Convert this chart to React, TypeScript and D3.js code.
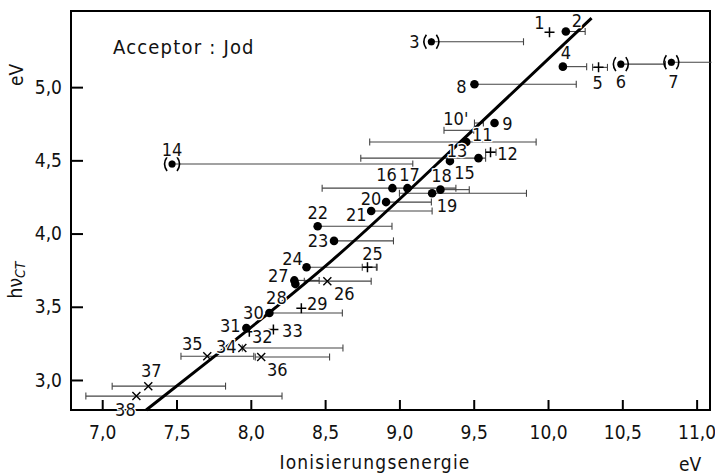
import React, { useEffect, useRef } from "react";
import * as d3 from "d3";

// Charge-transfer band energy vs. ionisation energy of the donor (acceptor: iodine)
const pointIds = ["1", "2", "3", "4", "5", "6", "7", "8", "9", "10'", "11", "12", "13", "14", "15", "16", "17", "18", "19", "20",
  "21", "22", "23", "24", "25", "26", "27", "28", "29", "30", "31", "32", "33", "34", "35", "36", "37", "38"];
const ionEnergy = [10.01, 10.12, 9.215, 10.10, 10.34, 10.49, 10.83, 9.505, 9.64, 9.40, 9.45, 9.613, 9.34, 7.47, 9.532, 8.953, 9.054, 9.276, 9.22, 8.91,
  8.81, 8.45, 8.56, 8.375, 8.785, 8.515, 8.293, 8.30, 8.34, 8.125, 7.97, 7.99, 8.152, 7.943, 7.707, 8.07, 7.31, 7.23];
const ctEnergy = [5.375, 5.38, 5.31, 5.14, 5.135, 5.157, 5.17, 5.02, 4.755, 4.705, 4.625, 4.556, 4.495, 4.475, 4.515, 4.31, 4.31, 4.30, 4.275, 4.215,
  4.154, 4.05, 3.95, 3.77, 3.77, 3.675, 3.68, 3.655, 3.49, 3.457, 3.355, 3.33, 3.345, 3.218, 3.162, 3.157, 2.958, 2.89];
const markerKind = ["plus", "dot", "paren", "dot", "plus", "paren", "paren", "dot", "dot", "none", "dot", "plus", "dot", "paren", "dot", "dot", "dot", "dot", "dot", "dot",
  "dot", "dot", "dot", "dot", "plus", "cross", "dot", "dot", "plus", "dot", "dot", "plus", "plus", "cross", "cross", "cross", "cross", "cross"];
// spread of the ionisation energies (null = no bar)
const errLow = [null, 10.12, 9.215, 10.10, 10.30, 10.49, 10.83, 9.505, 9.505, 9.30, 8.80, 9.58, null, 7.47, 8.74, 8.48, null, 9.276, 9.00, 8.91,
  8.81, 8.45, 8.56, 8.375, 8.75, 8.36, 8.293, null, null, 8.125, null, null, null, 7.943, 7.53, 8.03, 7.067, 6.89];
const errHigh = [null, 10.25, 9.835, 10.26, 10.40, 10.79, 11.10, 10.19, 9.565, 9.50, 9.92, 9.65, null, 9.09, 9.58, 9.38, null, 9.47, 9.855, 9.215,
  9.22, 8.95, 8.96, 8.845, 8.85, 8.81, 8.46, null, null, 8.616, null, null, null, 8.62, 8.02, 8.53, 7.83, 8.21];

// fitted curve
const fitIon = [7.296, 7.768, 8.549, 9.316, 10.293];
const fitCt = [2.795, 3.171, 3.819, 4.536, 5.471];

const xTickValues = [7.0, 7.5, 8.0, 8.5, 9.0, 9.5, 10.0, 10.5, 11.0];
const yTickValues = [3.0, 3.5, 4.0, 4.5, 5.0];

// where each number sits next to its marker (px)
const labelOffset: Record<string, [number, number]> = {
  "1": [-10, -10], "2": [11, -11], "3": [-17, 0], "4": [3, -14], "5": [-1, 15], "6": [0, 17], "7": [2, 19], "8": [-13, 2],
  "9": [13, 0], "10'": [-3, -12], "11": [16, -8], "12": [17, 1], "13": [7, -11], "14": [0, -15], "15": [-14, 14],
  "16": [-6, -14], "17": [2, -14], "18": [1, -14], "19": [15, 12], "20": [-15, -4], "21": [-15, 3], "22": [0, -14],
  "23": [-16, 0], "24": [-14, -9], "25": [5, -14], "26": [17, 12], "27": [-16, -5], "28": [-19, 13], "29": [16, -5],
  "30": [-16, -1], "31": [-16, -3], "32": [13, 5], "33": [19, 1], "34": [-16, -2], "35": [-15, -13], "36": [16, 13],
  "37": [3, -16], "38": [-11, 13],
};

const FONT = "'DejaVu Sans Condensed', 'DejaVu Sans', sans-serif";

export default function App() {
  const ref = useRef<SVGSVGElement>(null);

  useEffect(() => {
    const svg = d3.select(ref.current);
    svg.selectAll("*").remove();

    const x = d3.scaleLinear().domain([6.79, 11.09]).range([71, 710]);
    const y = d3.scaleLinear().domain([2.795, 5.52]).range([410, 11]);
    const fmt = (v: number) => d3.format(".1f")(v).replace(".", ",");

    // axes with inward ticks
    const gx = svg.append("g").attr("transform", "translate(0,410)")
      .call(d3.axisBottom(x).tickValues(xTickValues).tickFormat(fmt as any).tickSizeInner(-10).tickSizeOuter(0).tickPadding(16));
    const gy = svg.append("g").attr("transform", "translate(71,0)")
      .call(d3.axisLeft(y).tickValues(yTickValues).tickFormat(fmt as any).tickSizeInner(-12).tickSizeOuter(0).tickPadding(9));
    [gx, gy].forEach(g => {
      g.select(".domain").remove();
      g.selectAll("line").attr("stroke", "#000").attr("stroke-width", 2);
      g.selectAll("text").attr("font-family", FONT).attr("font-size", 19).attr("fill", "#111");
    });

    svg.append("rect")
      .attr("x", 71).attr("y", 11).attr("width", 639).attr("height", 399)
      .attr("fill", "none").attr("stroke", "#000").attr("stroke-width", 2);

    const pts = pointIds.map((id, i) => ({
      id, x: ionEnergy[i], y: ctEnergy[i], kind: markerKind[i], lo: errLow[i], hi: errHigh[i],
    }));

    // error bars
    const bars = svg.append("g").attr("stroke", "#444").attr("stroke-width", 1.1).attr("fill", "none");
    pts.filter(d => d.lo !== null && d.hi !== null).forEach(d => {
      const py = y(d.y);
      const x0 = x(d.lo as number), x1 = Math.min(x(d.hi as number), 713);
      bars.append("line").attr("x1", x0).attr("x2", x1).attr("y1", py).attr("y2", py);
      bars.append("line").attr("x1", x0).attr("x2", x0).attr("y1", py - 3.5).attr("y2", py + 3.5);
      if (x1 < 709) bars.append("line").attr("x1", x1).attr("x2", x1).attr("y1", py - 3.5).attr("y2", py + 3.5);
    });

    // fitted curve
    svg.append("path")
      .datum(fitIon.map((v, i) => [v, fitCt[i]] as [number, number]))
      .attr("d", d3.line<[number, number]>().x(d => x(d[0])).y(d => y(d[1])).curve(d3.curveNatural))
      .attr("fill", "none").attr("stroke", "#000").attr("stroke-width", 3);

    // markers
    const mk = svg.append("g");
    pts.forEach(d => {
      const cx = x(d.x), cy = y(d.y);
      if (d.kind === "dot") {
        mk.append("circle").attr("cx", cx).attr("cy", cy).attr("r", 4.3).attr("fill", "#000");
      } else if (d.kind === "paren") {
        mk.append("circle").attr("cx", cx).attr("cy", cy).attr("r", 3.6).attr("fill", "#000");
        mk.append("path")
          .attr("d", `M${cx - 5},${cy - 7}Q${cx - 10},${cy} ${cx - 5},${cy + 7}M${cx + 5},${cy - 7}Q${cx + 10},${cy} ${cx + 5},${cy + 7}`)
          .attr("fill", "none").attr("stroke", "#000").attr("stroke-width", 1.6);
      } else if (d.kind === "plus") {
        mk.append("path").attr("d", `M${cx - 5},${cy}H${cx + 5}M${cx},${cy - 5}V${cy + 5}`)
          .attr("stroke", "#000").attr("stroke-width", 1.5);
      } else if (d.kind === "cross") {
        mk.append("path").attr("d", `M${cx - 4},${cy - 4}L${cx + 4},${cy + 4}M${cx - 4},${cy + 4}L${cx + 4},${cy - 4}`)
          .attr("stroke", "#000").attr("stroke-width", 1.4);
      }
    });

    // point numbers
    svg.append("g").selectAll("text").data(pts).enter().append("text")
      .attr("x", d => x(d.x) + labelOffset[d.id][0])
      .attr("y", d => y(d.y) + labelOffset[d.id][1])
      .attr("text-anchor", "middle").attr("dominant-baseline", "central")
      .attr("font-family", FONT).attr("font-size", 18).attr("fill", "#111")
      .attr("stroke", "#fff").attr("stroke-width", 2.5).attr("paint-order", "stroke")
      .text(d => d.id);

    // titles
    svg.append("text").attr("x", 113).attr("y", 47).attr("dominant-baseline", "central")
      .attr("font-family", FONT).attr("font-size", 20).attr("letter-spacing", 1.2).attr("fill", "#111").text("Acceptor : Jod");
    svg.append("text").attr("transform", "translate(16,75) rotate(-90)")
      .attr("text-anchor", "middle").attr("dominant-baseline", "central")
      .attr("font-family", FONT).attr("font-size", 19).attr("fill", "#111").text("eV");
    const hv = svg.append("text").attr("transform", "translate(15,280) rotate(-90)")
      .attr("text-anchor", "middle").attr("dominant-baseline", "central")
      .attr("font-family", FONT).attr("font-size", 19).attr("fill", "#111");
    hv.append("tspan").text("hν");
    hv.append("tspan").attr("dy", 5).attr("font-size", 14).attr("font-style", "italic").text("CT");
    svg.append("text").attr("x", 375).attr("y", 462).attr("text-anchor", "middle").attr("dominant-baseline", "central")
      .attr("font-family", FONT).attr("font-size", 19).attr("letter-spacing", 1.2).attr("fill", "#111").text("Ionisierungsenergie");
    svg.append("text").attr("x", 690).attr("y", 464).attr("text-anchor", "middle").attr("dominant-baseline", "central")
      .attr("font-family", FONT).attr("font-size", 19).attr("fill", "#111").text("eV");
  }, []);

  return (
    <svg ref={ref} width={715} height={474}
      style={{ position: "absolute", left: 0, top: 0, background: "#fff" }} />
  );
}
